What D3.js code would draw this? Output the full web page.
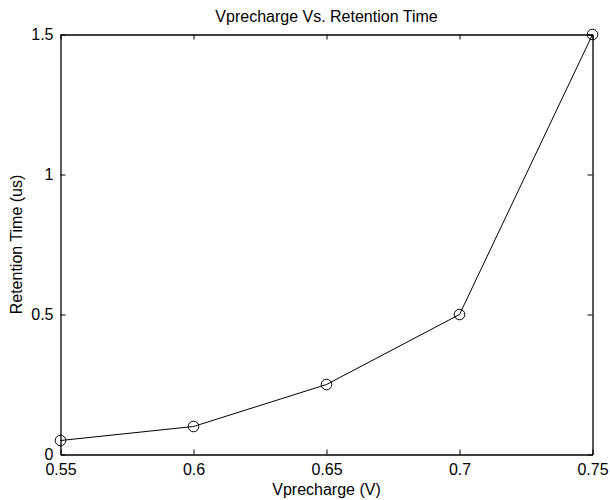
<!DOCTYPE html>
<html><head><meta charset="utf-8">
<script src="https://cdn.jsdelivr.net/npm/d3@7"></script>
<style>body{margin:0;background:#fff}svg{display:block}text{font-family:"Liberation Sans",Arial,sans-serif;fill:#000}</style>
</head><body><svg id="c" width="610" height="500"></svg>
<script>
const vprecharge = [0.55, 0.6, 0.65, 0.7, 0.75];
const retention = [0.05, 0.1, 0.25, 0.5, 1.5];
const xTicks = [0.55, 0.6, 0.65, 0.7, 0.75];
const yTicks = [0, 0.5, 1, 1.5];

const svg = d3.select("#c");
const m = {l:60.5, r:592.5, t:34.5, b:454.5};
const x = d3.scaleLinear().domain([0.55,0.75]).range([m.l,m.r]);
const y = d3.scaleLinear().domain([0,1.5]).range([m.b,m.t]);

svg.append("rect").attr("width",610).attr("height",500).attr("fill","#fff");

const fmt = d => String(d);
const gx = svg.append("g").attr("transform",`translate(0,${m.b})`)
  .call(d3.axisBottom(x).tickValues(xTicks).tickFormat(fmt).tickSizeInner(-5).tickSizeOuter(0).tickPadding(9));
const gxt = svg.append("g").attr("transform",`translate(0,${m.t})`)
  .call(d3.axisTop(x).tickValues(xTicks).tickFormat("").tickSizeInner(-5).tickSizeOuter(0));
const gy = svg.append("g").attr("transform",`translate(${m.l},0)`)
  .call(d3.axisLeft(y).tickValues(yTicks).tickFormat(fmt).tickSizeInner(-5).tickSizeOuter(0).tickPadding(7));
const gyr = svg.append("g").attr("transform",`translate(${m.r},0)`)
  .call(d3.axisRight(y).tickValues(yTicks).tickFormat("").tickSizeInner(-5).tickSizeOuter(0));
[gx,gxt,gy,gyr].forEach(g=>{
  g.selectAll(".domain").attr("stroke","#000").attr("stroke-width",1.3);
  g.selectAll(".tick line").attr("stroke","#000");
  g.selectAll("text").style("font-size","16px").style("font-family","'Liberation Sans',Arial,sans-serif").attr("fill","#000");
});
gx.selectAll("text").attr("dy","0.71em");

const line = d3.line().x((d,i)=>x(vprecharge[i])).y(d=>y(d));
svg.append("path").datum(retention).attr("d",line).attr("fill","none").attr("stroke","#000").attr("stroke-width",1);
svg.selectAll("circle.pt").data(retention).enter().append("circle")
  .attr("cx",(d,i)=>x(vprecharge[i])).attr("cy",d=>y(d)).attr("r",5.3)
  .attr("fill","none").attr("stroke","#000").attr("stroke-width",1);

svg.append("text").attr("x",(m.l+m.r)/2).attr("y",22).attr("text-anchor","middle").style("font-size","16px").text("Vprecharge Vs. Retention Time");
svg.append("text").attr("x",(m.l+m.r)/2).attr("y",495).attr("text-anchor","middle").style("font-size","16px").text("Vprecharge (V)");
svg.append("text").attr("transform",`translate(22,${(m.t+m.b)/2}) rotate(-90)`).attr("text-anchor","middle").style("font-size","16px").text("Retention Time (us)");
</script></body></html>
